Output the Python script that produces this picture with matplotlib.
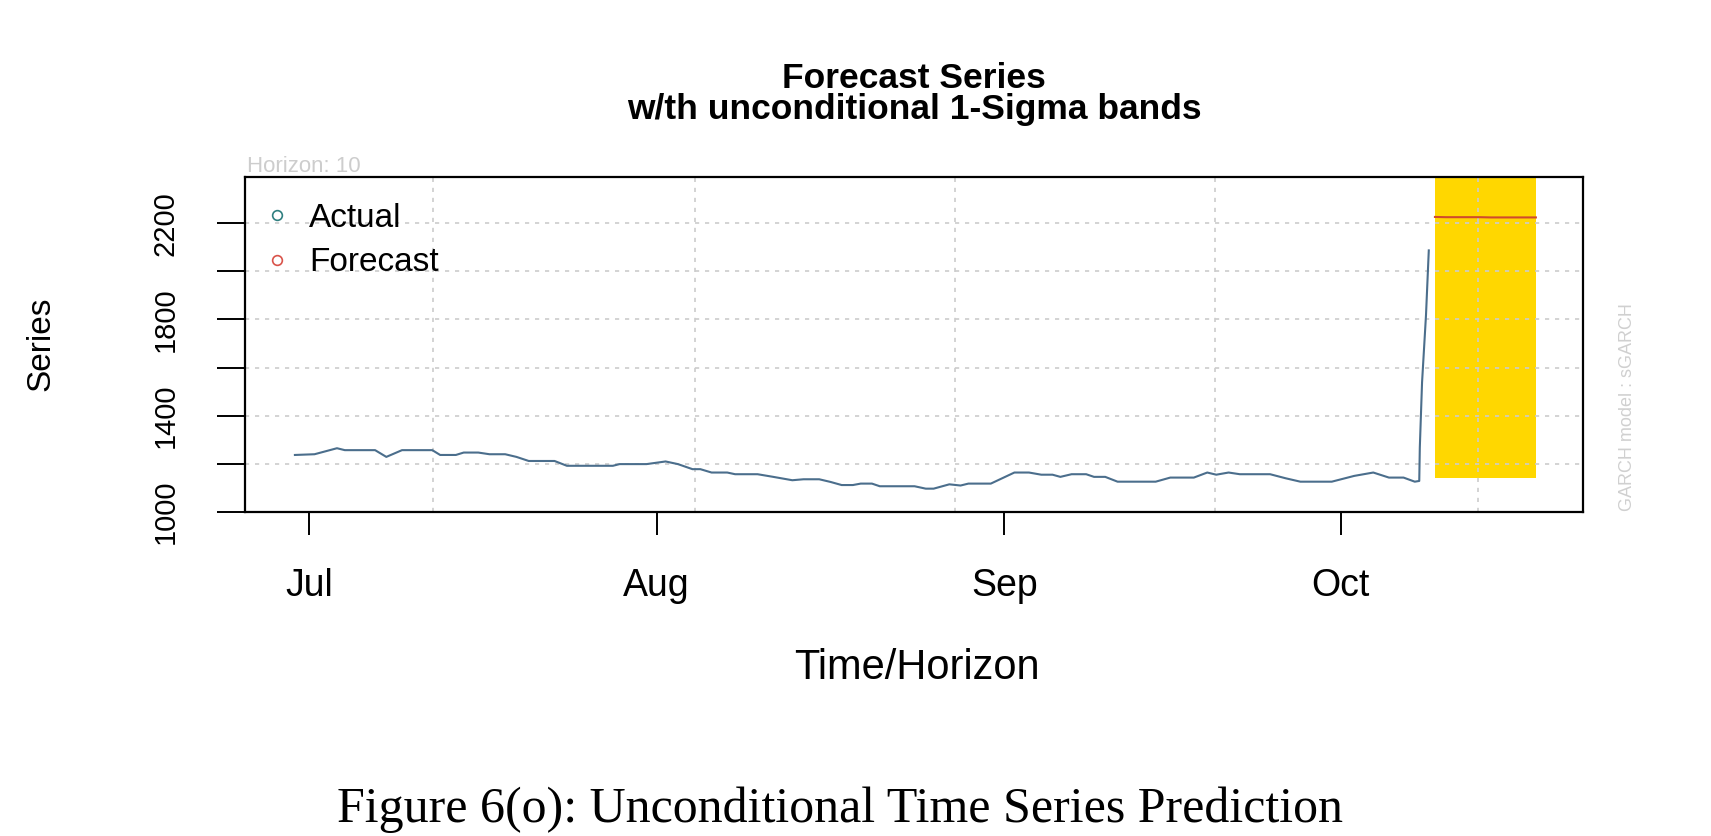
import matplotlib
matplotlib.use('Agg')
import matplotlib.pyplot as plt
import matplotlib.dates as mdates
from matplotlib.lines import Line2D
import numpy as np
import pandas as pd

START = pd.Timestamp('2021-07-01')

actual_day = [-1.25, 0.5, 2.5, 3.2, 5.9, 6.9, 8.3, 11.0, 11.7, 13.1, 13.8, 15.1, 16.1, 17.5,
              18.5, 19.6, 21.9, 23.0, 27.1, 27.7, 30.1, 31.8, 32.9, 34.2, 34.9, 35.9, 37.3,
              38.0, 40.0, 41.4, 43.1, 44.1, 45.5, 46.5, 47.5, 48.5, 49.2, 50.2, 50.9, 54.0,
              55.0, 55.7, 57.1, 58.1, 58.8, 60.8, 62.9, 64.2, 65.3, 66.3, 67.0, 68.0, 69.3,
              70.0, 71.0, 72.1, 75.5, 76.8, 78.9, 80.1, 80.9, 82.0, 83.0, 85.7, 87.1, 88.4,
              91.2, 93.2, 94.9, 96.3, 97.6, 98.6, 99.0, 99.05, 99.25, 99.6, 99.85]
actual_value = [1237, 1240, 1265, 1257, 1257, 1229, 1257, 1257, 1237, 1237, 1247, 1247, 1240, 1240,
                1229, 1212, 1212, 1192, 1192, 1199, 1199, 1210, 1199, 1178, 1178, 1164, 1164,
                1157, 1157, 1146, 1132, 1136, 1136, 1125, 1112, 1112, 1118, 1118, 1107, 1107,
                1097, 1097, 1115, 1110, 1118, 1118, 1164, 1164, 1155, 1155, 1146, 1157, 1157,
                1146, 1146, 1126, 1126, 1143, 1143, 1164, 1155, 1164, 1157, 1157, 1140, 1126,
                1126, 1150, 1164, 1143, 1143, 1126, 1129, 1268, 1539, 1817, 2087]

forecast_day = [100.4, 101.4, 102.4, 103.4, 104.4, 105.4, 106.4, 107.4, 108.4, 109.4]
forecast_value = [2226, 2225, 2225, 2225, 2225, 2224, 2224, 2224, 2224, 2224]
band_lower = [1142, 1142, 1142, 1142, 1142, 1142, 1142, 1142, 1142, 1142]
band_upper = [3310, 3310, 3310, 3310, 3310, 3310, 3310, 3310, 3310, 3310]

grid_day = [11.05, 34.4, 57.6, 80.8, 104.2]
y_ticks = [1000, 1200, 1400, 1600, 1800, 2000, 2200]
y_tick_labels = ['1000', '', '1400', '', '1800', '', '2200']
month_ticks = ['2021-07-01', '2021-08-01', '2021-09-01', '2021-10-01']
month_labels = ['Jul', 'Aug', 'Sep', 'Oct']
x_range_day = [-5.7, 113.6]
y_range = [1000, 2392]

base = mdates.date2num(START.to_pydatetime())


def to_num(days):
    return base + np.array(days)


plt.rcParams['font.family'] = ['Liberation Sans', 'DejaVu Sans']

fig = plt.figure(figsize=(17.11, 8.36), dpi=100)
ax = fig.add_axes([245 / 1711, 324 / 836, (1583 - 245) / 1711, (512 - 177) / 836])

ax.fill_between(to_num(forecast_day), band_lower, band_upper, color='#ffd700', lw=0, zorder=1)
for g in grid_day:
    ax.axvline(base + g, color='#cccccc', lw=1.2, ls=(0, (2.5, 3.5)), zorder=2)
for t in y_ticks:
    ax.axhline(t, color='#cccccc', lw=1.2, ls=(0, (2.5, 3.5)), zorder=2)
ax.plot(to_num(actual_day), actual_value, color='#4b6e8c', lw=1.5, zorder=4)
ax.plot(to_num(forecast_day), forecast_value, color='#d04a2c', lw=1.5, zorder=4)

ax.set_xlim(to_num(x_range_day))
ax.set_ylim(y_range)
ax.set_xticks(mdates.date2num(pd.to_datetime(month_ticks).to_pydatetime()))
ax.set_xticklabels(month_labels)
ax.set_yticks(y_ticks)
ax.set_yticklabels(y_tick_labels)
ax.tick_params(axis='x', length=16.5, width=1.4, pad=24, labelsize=27)
ax.tick_params(axis='y', length=20, width=1.4, pad=27, labelsize=21, labelrotation=90)
for lab in ax.get_yticklabels():
    lab.set_va('center')
for s in ax.spines.values():
    s.set_linewidth(1.6)

handles = [Line2D([], [], ls='none', marker='o', mfc='none', mec='#2f7f80', ms=7, mew=1.2),
           Line2D([], [], ls='none', marker='o', mfc='none', mec='#d9534a', ms=7, mew=1.2)]
ax.legend(handles, ['Actual', 'Forecast'], loc='upper left', bbox_to_anchor=(0, 1 - 11 / 335),
          frameon=False, fontsize=24, borderaxespad=0, borderpad=0.45, handlelength=1.0,
          handletextpad=0.47, labelspacing=0.4)

fig.text(914 / 1711, 1 - 79 / 836, 'Forecast Series', ha='center', va='center',
         fontsize=25.5, fontweight='bold')
fig.text(914 / 1711, 1 - 110 / 836, 'w/th unconditional 1-Sigma bands', ha='center', va='center',
         fontsize=25.5, fontweight='bold')
fig.text(247 / 1711, 1 - 166 / 836, 'Horizon: 10', ha='left', va='center', fontsize=16, color='#cdcdcd')
fig.text(1627 / 1711, 1 - 511 / 836, 'GARCH model : sGARCH', ha='center', va='bottom',
         rotation=90, fontsize=13, color='#d0d0d0')
fig.text(41 / 1711, 1 - 344 / 836, 'Series', ha='center', va='center', rotation=90, fontsize=24)
fig.text(917 / 1711, 1 - 668 / 836, 'Time/Horizon', ha='center', va='center', fontsize=30)
fig.text(840 / 1711, 1 - 822 / 836, 'Figure 6(o): Unconditional Time Series Prediction',
         ha='center', va='baseline', fontsize=36, family='Liberation Serif')

fig.savefig('out.png', dpi=100)
